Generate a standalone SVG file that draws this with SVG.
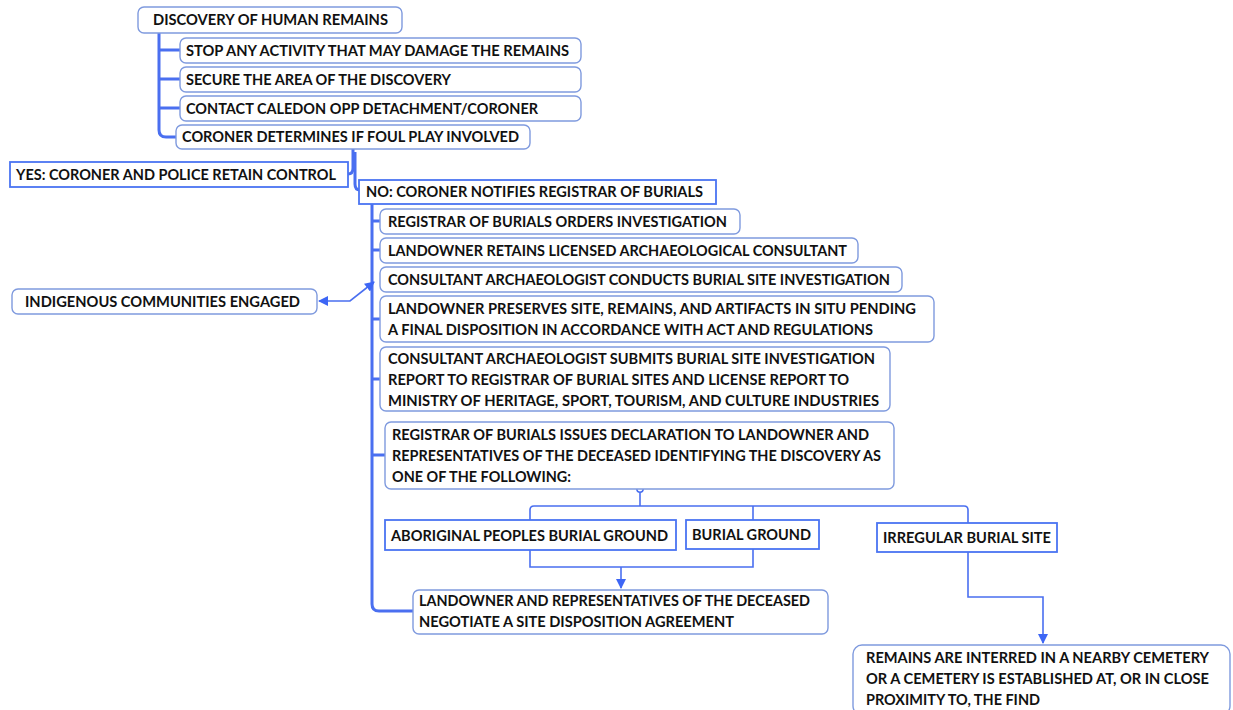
<svg xmlns="http://www.w3.org/2000/svg" width="1233" height="710" viewBox="0 0 1233 710">
<style>
.rb{fill:#fff;stroke:#7f9ade;stroke-width:1.4}
.sb{fill:#fff;stroke:#4a74f2;stroke-width:1.8}
.t{font-family:Lato,"Liberation Sans",sans-serif;font-weight:bold;font-size:15.5px;fill:#111}
.trunk{fill:none;stroke:#4a6ff0;stroke-width:3}
.ln{fill:none;stroke:#4a6ff0;stroke-width:1.6}
</style>
<defs>
<marker id="ah" viewBox="0 0 10 10" refX="9" refY="5" markerWidth="10" markerHeight="10" markerUnits="userSpaceOnUse" orient="auto-start-reverse">
<path d="M0,0 L10,5 L0,10 Z" fill="#3d66f5"/>
</marker>
</defs>
<rect width="1233" height="710" fill="#fff"/>
<g id="connectors">
<path class="trunk" d="M159,33 V130 Q159,137 166,137 H176"/>
<path class="trunk" d="M159,50 H180 M159,79 H180 M159,108 H180"/>
<path class="trunk" d="M353,149 V168 Q353,174 348,174"/>
<path class="trunk" d="M355,152 V184 Q355,190 360,190"/>
<path class="trunk" d="M372,204 V604 Q372,611 379,611 H413"/>
<path class="trunk" d="M372,221 H380 M372,250 H380 M372,319 H380 M372,379 H380 M372,455 H385"/>
<path class="ln" d="M374,282 L350,301 H319" marker-start="url(#ah)" marker-end="url(#ah)" stroke-width="1.8"/>
<path class="ln" d="M640,492 V506"/>
<path class="ln" d="M530,520 V510 Q530,506 534,506 H964 Q968,506 968,510 V523"/>
<path class="ln" d="M753,506 V520"/>
<path class="ln" d="M530,550 V567 H753 V549"/>
<path class="ln" d="M621,567 V588" marker-end="url(#ah)"/>
<path class="ln" d="M968,552 V597 H1043 V643" marker-end="url(#ah)"/>
<circle cx="640" cy="489" r="3.2" fill="#fff" stroke="#4a6ff0" stroke-width="1.4"/>
</g>
<g id="n-root"><rect class="rb" x="138" y="7" width="264" height="26" rx="6"/><text class="t" x="153" y="25" textLength="235" lengthAdjust="spacingAndGlyphs">DISCOVERY OF HUMAN REMAINS</text></g>
<g id="n-stop"><rect class="rb" x="180" y="38" width="401" height="25" rx="6"/><text class="t" x="186" y="55.5" textLength="383" lengthAdjust="spacingAndGlyphs">STOP ANY ACTIVITY THAT MAY DAMAGE THE REMAINS</text></g>
<g id="n-secure"><rect class="rb" x="180" y="67" width="401" height="25" rx="6"/><text class="t" x="186" y="84.5" textLength="265" lengthAdjust="spacingAndGlyphs">SECURE THE AREA OF THE DISCOVERY</text></g>
<g id="n-contact"><rect class="rb" x="180" y="96" width="401" height="25" rx="6"/><text class="t" x="186" y="113.5" textLength="352" lengthAdjust="spacingAndGlyphs">CONTACT CALEDON OPP DETACHMENT/CORONER</text></g>
<g id="n-coroner"><rect class="rb" x="176" y="125" width="354" height="24" rx="6"/><text class="t" x="182" y="142" textLength="337" lengthAdjust="spacingAndGlyphs">CORONER DETERMINES IF FOUL PLAY INVOLVED</text></g>
<g id="n-yes"><rect class="sb" x="10" y="162" width="338" height="25"/><text class="t" x="16" y="179.5" textLength="320" lengthAdjust="spacingAndGlyphs">YES: CORONER AND POLICE RETAIN CONTROL</text></g>
<g id="n-no"><rect class="sb" x="359" y="180" width="357" height="24"/><text class="t" x="366" y="197" textLength="337" lengthAdjust="spacingAndGlyphs">NO: CORONER NOTIFIES REGISTRAR OF BURIALS</text></g>
<g id="n-orders"><rect class="rb" x="380" y="209" width="360" height="25" rx="6"/><text class="t" x="388" y="226.5" textLength="339" lengthAdjust="spacingAndGlyphs">REGISTRAR OF BURIALS ORDERS INVESTIGATION</text></g>
<g id="n-retains"><rect class="rb" x="380" y="238" width="478" height="25" rx="6"/><text class="t" x="388" y="255.5" textLength="459" lengthAdjust="spacingAndGlyphs">LANDOWNER RETAINS LICENSED ARCHAEOLOGICAL CONSULTANT</text></g>
<g id="n-conducts"><rect class="rb" x="380" y="267" width="522" height="25" rx="6"/><text class="t" x="388" y="284.5" textLength="502" lengthAdjust="spacingAndGlyphs">CONSULTANT ARCHAEOLOGIST CONDUCTS BURIAL SITE INVESTIGATION</text></g>
<g id="n-preserves"><rect class="rb" x="380" y="296" width="554" height="46" rx="6"/><text class="t" x="388" y="313.5" textLength="528" lengthAdjust="spacingAndGlyphs">LANDOWNER PRESERVES SITE, REMAINS, AND ARTIFACTS IN SITU PENDING</text><text class="t" x="388" y="334.5" textLength="485" lengthAdjust="spacingAndGlyphs">A FINAL DISPOSITION IN ACCORDANCE WITH ACT AND REGULATIONS</text></g>
<g id="n-submits"><rect class="rb" x="380" y="347" width="510" height="64" rx="6"/><text class="t" x="388" y="363.5" textLength="487" lengthAdjust="spacingAndGlyphs">CONSULTANT ARCHAEOLOGIST SUBMITS BURIAL SITE INVESTIGATION</text><text class="t" x="388" y="384.5" textLength="461" lengthAdjust="spacingAndGlyphs">REPORT TO REGISTRAR OF BURIAL SITES AND LICENSE REPORT TO</text><text class="t" x="388" y="405.5" textLength="491" lengthAdjust="spacingAndGlyphs">MINISTRY OF HERITAGE, SPORT, TOURISM, AND CULTURE INDUSTRIES</text></g>
<g id="n-issues"><rect class="rb" x="385" y="422" width="509" height="67" rx="6"/><text class="t" x="392" y="439.5" textLength="477" lengthAdjust="spacingAndGlyphs">REGISTRAR OF BURIALS ISSUES DECLARATION TO LANDOWNER AND</text><text class="t" x="392" y="460.5" textLength="489" lengthAdjust="spacingAndGlyphs">REPRESENTATIVES OF THE DECEASED IDENTIFYING THE DISCOVERY AS</text><text class="t" x="392" y="481.5" textLength="179" lengthAdjust="spacingAndGlyphs">ONE OF THE FOLLOWING:</text></g>
<g id="n-aboriginal"><rect class="sb" x="385" y="520" width="291" height="30" stroke-width="2.2"/><text class="t" x="391" y="540.5" textLength="277" lengthAdjust="spacingAndGlyphs">ABORIGINAL PEOPLES BURIAL GROUND</text></g>
<g id="n-burial"><rect class="sb" x="686" y="520" width="133" height="29" stroke-width="2.2"/><text class="t" x="692" y="539.5" textLength="119" lengthAdjust="spacingAndGlyphs">BURIAL GROUND</text></g>
<g id="n-irregular"><rect class="sb" x="877" y="523" width="180" height="29" stroke-width="2.2"/><text class="t" x="883" y="542.5" textLength="168" lengthAdjust="spacingAndGlyphs">IRREGULAR BURIAL SITE</text></g>
<g id="n-negotiate"><rect class="rb" x="413" y="590" width="415" height="44" rx="6"/><text class="t" x="419" y="606" textLength="391" lengthAdjust="spacingAndGlyphs">LANDOWNER AND REPRESENTATIVES OF THE DECEASED</text><text class="t" x="419" y="627" textLength="315" lengthAdjust="spacingAndGlyphs">NEGOTIATE A SITE DISPOSITION AGREEMENT</text></g>
<g id="n-indigenous"><rect class="rb" x="12" y="289" width="305" height="25" rx="6"/><text class="t" x="25" y="306.5" textLength="275" lengthAdjust="spacingAndGlyphs">INDIGENOUS COMMUNITIES ENGAGED</text></g>
<g id="n-remains"><rect class="rb" x="853" y="645" width="377" height="70" rx="9"/><text class="t" x="866" y="662.5" textLength="343" lengthAdjust="spacingAndGlyphs">REMAINS ARE INTERRED IN A NEARBY CEMETERY</text><text class="t" x="866" y="683.5" textLength="343" lengthAdjust="spacingAndGlyphs">OR A CEMETERY IS ESTABLISHED AT, OR IN CLOSE</text><text class="t" x="866" y="704.5" textLength="174" lengthAdjust="spacingAndGlyphs">PROXIMITY TO, THE FIND</text></g>
</svg>
